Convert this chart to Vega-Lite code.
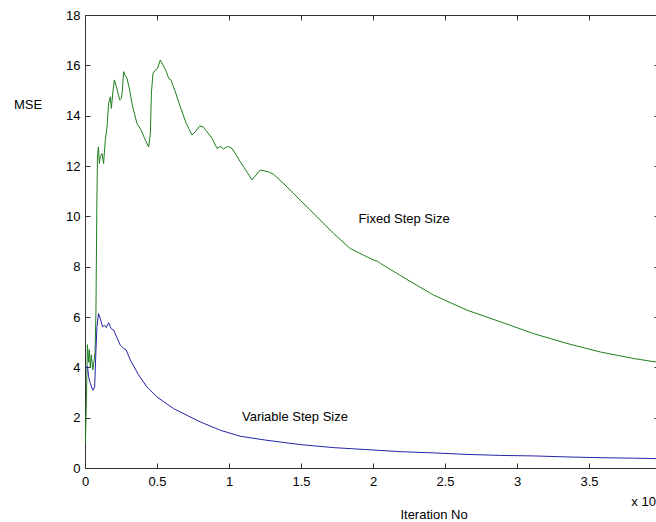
{
  "$schema": "https://vega.github.io/schema/vega-lite/v6.json",
  "autosize": "none",
  "width": 571,
  "height": 453,
  "padding": {"left": 85, "top": 15, "right": 0, "bottom": 54},
  "background": "white",
  "config": {
    "view": {"stroke": null},
    "font": "Liberation Sans",
    "axis": {
      "grid": false,
      "domainColor": "#333333",
      "tickColor": "#333333",
      "labelColor": "#000000",
      "titleColor": "#000000",
      "labelFont": "Liberation Sans",
      "titleFont": "Liberation Sans",
      "labelFontSize": 13,
      "titleFontSize": 13,
      "titleFontWeight": "normal"
    }
  },
  "datasets": {
    "curves": [
      {"series": "Fixed Step Size", "iter": 0, "mse": 1.8},
      {"series": "Fixed Step Size", "iter": 30, "mse": 1.0},
      {"series": "Fixed Step Size", "iter": 100, "mse": 2.8},
      {"series": "Fixed Step Size", "iter": 170, "mse": 4.9},
      {"series": "Fixed Step Size", "iter": 250, "mse": 4.2},
      {"series": "Fixed Step Size", "iter": 300, "mse": 4.7},
      {"series": "Fixed Step Size", "iter": 370, "mse": 4.0},
      {"series": "Fixed Step Size", "iter": 440, "mse": 4.5},
      {"series": "Fixed Step Size", "iter": 540, "mse": 3.9},
      {"series": "Fixed Step Size", "iter": 640, "mse": 4.3},
      {"series": "Fixed Step Size", "iter": 700, "mse": 4.6},
      {"series": "Fixed Step Size", "iter": 760, "mse": 6.2},
      {"series": "Fixed Step Size", "iter": 800, "mse": 9.0},
      {"series": "Fixed Step Size", "iter": 830, "mse": 10.8},
      {"series": "Fixed Step Size", "iter": 870, "mse": 12.4},
      {"series": "Fixed Step Size", "iter": 930, "mse": 12.76},
      {"series": "Fixed Step Size", "iter": 1000, "mse": 12.1},
      {"series": "Fixed Step Size", "iter": 1060, "mse": 12.37},
      {"series": "Fixed Step Size", "iter": 1180, "mse": 12.5},
      {"series": "Fixed Step Size", "iter": 1290, "mse": 12.1},
      {"series": "Fixed Step Size", "iter": 1410, "mse": 13.03},
      {"series": "Fixed Step Size", "iter": 1530, "mse": 13.56},
      {"series": "Fixed Step Size", "iter": 1640, "mse": 14.49},
      {"series": "Fixed Step Size", "iter": 1760, "mse": 14.75},
      {"series": "Fixed Step Size", "iter": 1830, "mse": 14.29},
      {"series": "Fixed Step Size", "iter": 1950, "mse": 15.02},
      {"series": "Fixed Step Size", "iter": 2040, "mse": 15.42},
      {"series": "Fixed Step Size", "iter": 2180, "mse": 15.15},
      {"series": "Fixed Step Size", "iter": 2270, "mse": 14.95},
      {"series": "Fixed Step Size", "iter": 2410, "mse": 14.62},
      {"series": "Fixed Step Size", "iter": 2530, "mse": 14.69},
      {"series": "Fixed Step Size", "iter": 2600, "mse": 15.02},
      {"series": "Fixed Step Size", "iter": 2680, "mse": 15.75},
      {"series": "Fixed Step Size", "iter": 2780, "mse": 15.61},
      {"series": "Fixed Step Size", "iter": 2920, "mse": 15.48},
      {"series": "Fixed Step Size", "iter": 3100, "mse": 15.02},
      {"series": "Fixed Step Size", "iter": 3310, "mse": 14.35},
      {"series": "Fixed Step Size", "iter": 3610, "mse": 13.69},
      {"series": "Fixed Step Size", "iter": 3890, "mse": 13.43},
      {"series": "Fixed Step Size", "iter": 4190, "mse": 13.03},
      {"series": "Fixed Step Size", "iter": 4420, "mse": 12.76},
      {"series": "Fixed Step Size", "iter": 4540, "mse": 13.3},
      {"series": "Fixed Step Size", "iter": 4610, "mse": 14.89},
      {"series": "Fixed Step Size", "iter": 4720, "mse": 15.68},
      {"series": "Fixed Step Size", "iter": 4880, "mse": 15.81},
      {"series": "Fixed Step Size", "iter": 5040, "mse": 15.88},
      {"series": "Fixed Step Size", "iter": 5230, "mse": 16.21},
      {"series": "Fixed Step Size", "iter": 5420, "mse": 16.01},
      {"series": "Fixed Step Size", "iter": 5650, "mse": 15.75},
      {"series": "Fixed Step Size", "iter": 5810, "mse": 15.48},
      {"series": "Fixed Step Size", "iter": 5970, "mse": 15.42},
      {"series": "Fixed Step Size", "iter": 6270, "mse": 14.95},
      {"series": "Fixed Step Size", "iter": 6620, "mse": 14.35},
      {"series": "Fixed Step Size", "iter": 7030, "mse": 13.69},
      {"series": "Fixed Step Size", "iter": 7430, "mse": 13.23},
      {"series": "Fixed Step Size", "iter": 7660, "mse": 13.36},
      {"series": "Fixed Step Size", "iter": 7960, "mse": 13.59},
      {"series": "Fixed Step Size", "iter": 8200, "mse": 13.56},
      {"series": "Fixed Step Size", "iter": 8470, "mse": 13.36},
      {"series": "Fixed Step Size", "iter": 8820, "mse": 13.1},
      {"series": "Fixed Step Size", "iter": 9170, "mse": 12.7},
      {"series": "Fixed Step Size", "iter": 9400, "mse": 12.78},
      {"series": "Fixed Step Size", "iter": 9630, "mse": 12.68},
      {"series": "Fixed Step Size", "iter": 9900, "mse": 12.78},
      {"series": "Fixed Step Size", "iter": 10210, "mse": 12.7},
      {"series": "Fixed Step Size", "iter": 10780, "mse": 12.17},
      {"series": "Fixed Step Size", "iter": 11600, "mse": 11.45},
      {"series": "Fixed Step Size", "iter": 12170, "mse": 11.84},
      {"series": "Fixed Step Size", "iter": 12750, "mse": 11.77},
      {"series": "Fixed Step Size", "iter": 13100, "mse": 11.67},
      {"series": "Fixed Step Size", "iter": 14030, "mse": 11.17},
      {"series": "Fixed Step Size", "iter": 14950, "mse": 10.64},
      {"series": "Fixed Step Size", "iter": 16110, "mse": 9.98},
      {"series": "Fixed Step Size", "iter": 17260, "mse": 9.32},
      {"series": "Fixed Step Size", "iter": 18420, "mse": 8.72},
      {"series": "Fixed Step Size", "iter": 20040, "mse": 8.26},
      {"series": "Fixed Step Size", "iter": 20300, "mse": 8.22},
      {"series": "Fixed Step Size", "iter": 20510, "mse": 8.13},
      {"series": "Fixed Step Size", "iter": 22360, "mse": 7.49},
      {"series": "Fixed Step Size", "iter": 24210, "mse": 6.87},
      {"series": "Fixed Step Size", "iter": 26530, "mse": 6.27},
      {"series": "Fixed Step Size", "iter": 28840, "mse": 5.81},
      {"series": "Fixed Step Size", "iter": 31150, "mse": 5.34},
      {"series": "Fixed Step Size", "iter": 33470, "mse": 4.95},
      {"series": "Fixed Step Size", "iter": 35780, "mse": 4.61},
      {"series": "Fixed Step Size", "iter": 38100, "mse": 4.35},
      {"series": "Fixed Step Size", "iter": 40000, "mse": 4.18},
      {"series": "Variable Step Size", "iter": 0, "mse": 4.0},
      {"series": "Variable Step Size", "iter": 180, "mse": 4.02},
      {"series": "Variable Step Size", "iter": 250, "mse": 3.62},
      {"series": "Variable Step Size", "iter": 370, "mse": 3.36},
      {"series": "Variable Step Size", "iter": 550, "mse": 3.09},
      {"series": "Variable Step Size", "iter": 670, "mse": 3.22},
      {"series": "Variable Step Size", "iter": 760, "mse": 4.68},
      {"series": "Variable Step Size", "iter": 830, "mse": 5.61},
      {"series": "Variable Step Size", "iter": 940, "mse": 6.14},
      {"series": "Variable Step Size", "iter": 1060, "mse": 5.94},
      {"series": "Variable Step Size", "iter": 1220, "mse": 5.61},
      {"series": "Variable Step Size", "iter": 1360, "mse": 5.67},
      {"series": "Variable Step Size", "iter": 1480, "mse": 5.58},
      {"series": "Variable Step Size", "iter": 1640, "mse": 5.77},
      {"series": "Variable Step Size", "iter": 1810, "mse": 5.54},
      {"series": "Variable Step Size", "iter": 1990, "mse": 5.48},
      {"series": "Variable Step Size", "iter": 2220, "mse": 5.18},
      {"series": "Variable Step Size", "iter": 2450, "mse": 4.88},
      {"series": "Variable Step Size", "iter": 2680, "mse": 4.75},
      {"series": "Variable Step Size", "iter": 2850, "mse": 4.7},
      {"series": "Variable Step Size", "iter": 3150, "mse": 4.29},
      {"series": "Variable Step Size", "iter": 3720, "mse": 3.7},
      {"series": "Variable Step Size", "iter": 4300, "mse": 3.22},
      {"series": "Variable Step Size", "iter": 5000, "mse": 2.82},
      {"series": "Variable Step Size", "iter": 6150, "mse": 2.36},
      {"series": "Variable Step Size", "iter": 8010, "mse": 1.83},
      {"series": "Variable Step Size", "iter": 9400, "mse": 1.5},
      {"series": "Variable Step Size", "iter": 10790, "mse": 1.26},
      {"series": "Variable Step Size", "iter": 12640, "mse": 1.1},
      {"series": "Variable Step Size", "iter": 14950, "mse": 0.93},
      {"series": "Variable Step Size", "iter": 17260, "mse": 0.81},
      {"series": "Variable Step Size", "iter": 19580, "mse": 0.73},
      {"series": "Variable Step Size", "iter": 21890, "mse": 0.65},
      {"series": "Variable Step Size", "iter": 24200, "mse": 0.6},
      {"series": "Variable Step Size", "iter": 26530, "mse": 0.54},
      {"series": "Variable Step Size", "iter": 28840, "mse": 0.5},
      {"series": "Variable Step Size", "iter": 31150, "mse": 0.48},
      {"series": "Variable Step Size", "iter": 33470, "mse": 0.44},
      {"series": "Variable Step Size", "iter": 35780, "mse": 0.41},
      {"series": "Variable Step Size", "iter": 38100, "mse": 0.39},
      {"series": "Variable Step Size", "iter": 40000, "mse": 0.37}
    ],
    "notes": [
      {"label": "Fixed Step Size", "iter": 19000, "mse": 9.72},
      {"label": "Variable Step Size", "iter": 10900, "mse": 1.87},
      {"label": "x 10⁴", "iter": 37940, "mse": -1.5}
    ]
  },
  "resolve": {"axis": {"x": "independent", "y": "independent"}},
  "layer": [
    {
      "data": {"name": "curves"},
      "mark": {"type": "line", "clip": true, "strokeWidth": 1},
      "encoding": {
        "x": {
          "field": "iter",
          "type": "quantitative",
          "scale": {"domain": [0, 39650], "nice": false, "zero": false},
          "axis": {
            "orient": "bottom",
            "values": [0, 5000, 10000, 15000, 20000, 25000, 30000, 35000],
            "labelExpr": "datum.value / 10000",
            "tickSize": -5,
            "labelPadding": 12,
            "labelFlush": false,
            "title": "Iteration No",
            "titleX": 348.5,
            "titleY": 50.5,
            "titleAnchor": null,
            "titleAlign": "center",
            "titleBaseline": "alphabetic"
          }
        },
        "y": {
          "field": "mse",
          "type": "quantitative",
          "scale": {"domain": [0, 18], "nice": false, "zero": false},
          "axis": {
            "orient": "left",
            "values": [0, 2, 4, 6, 8, 10, 12, 14, 16, 18],
            "tickSize": -5,
            "labelPadding": 10,
            "labelFlush": false,
            "title": "MSE",
            "titleAngle": 0,
            "titleX": -57.5,
            "titleY": 93.3,
            "titleAlign": "center",
            "titleBaseline": "alphabetic"
          }
        },
        "color": {
          "field": "series",
          "type": "nominal",
          "scale": {"domain": ["Fixed Step Size", "Variable Step Size"], "range": ["#1e7e1e", "#2424a8"]},
          "legend": null
        }
      }
    },
    {
      "data": {"name": "notes"},
      "mark": {"type": "text", "align": "left", "baseline": "alphabetic", "fontSize": 13, "font": "Liberation Sans", "color": "#000000"},
      "encoding": {
        "x": {
          "field": "iter",
          "type": "quantitative",
          "scale": {"domain": [0, 39650], "nice": false, "zero": false},
          "axis": {
            "orient": "top",
            "values": [0, 5000, 10000, 15000, 20000, 25000, 30000, 35000],
            "labels": false,
            "tickSize": -5,
            "title": null
          }
        },
        "y": {
          "field": "mse",
          "type": "quantitative",
          "scale": {"domain": [0, 18], "nice": false, "zero": false},
          "axis": {
            "orient": "right",
            "values": [0, 2, 4, 6, 8, 10, 12, 14, 16, 18],
            "labels": false,
            "domain": false,
            "tickSize": -2,
            "title": null
          }
        },
        "text": {"field": "label", "type": "nominal"}
      }
    }
  ]
}
